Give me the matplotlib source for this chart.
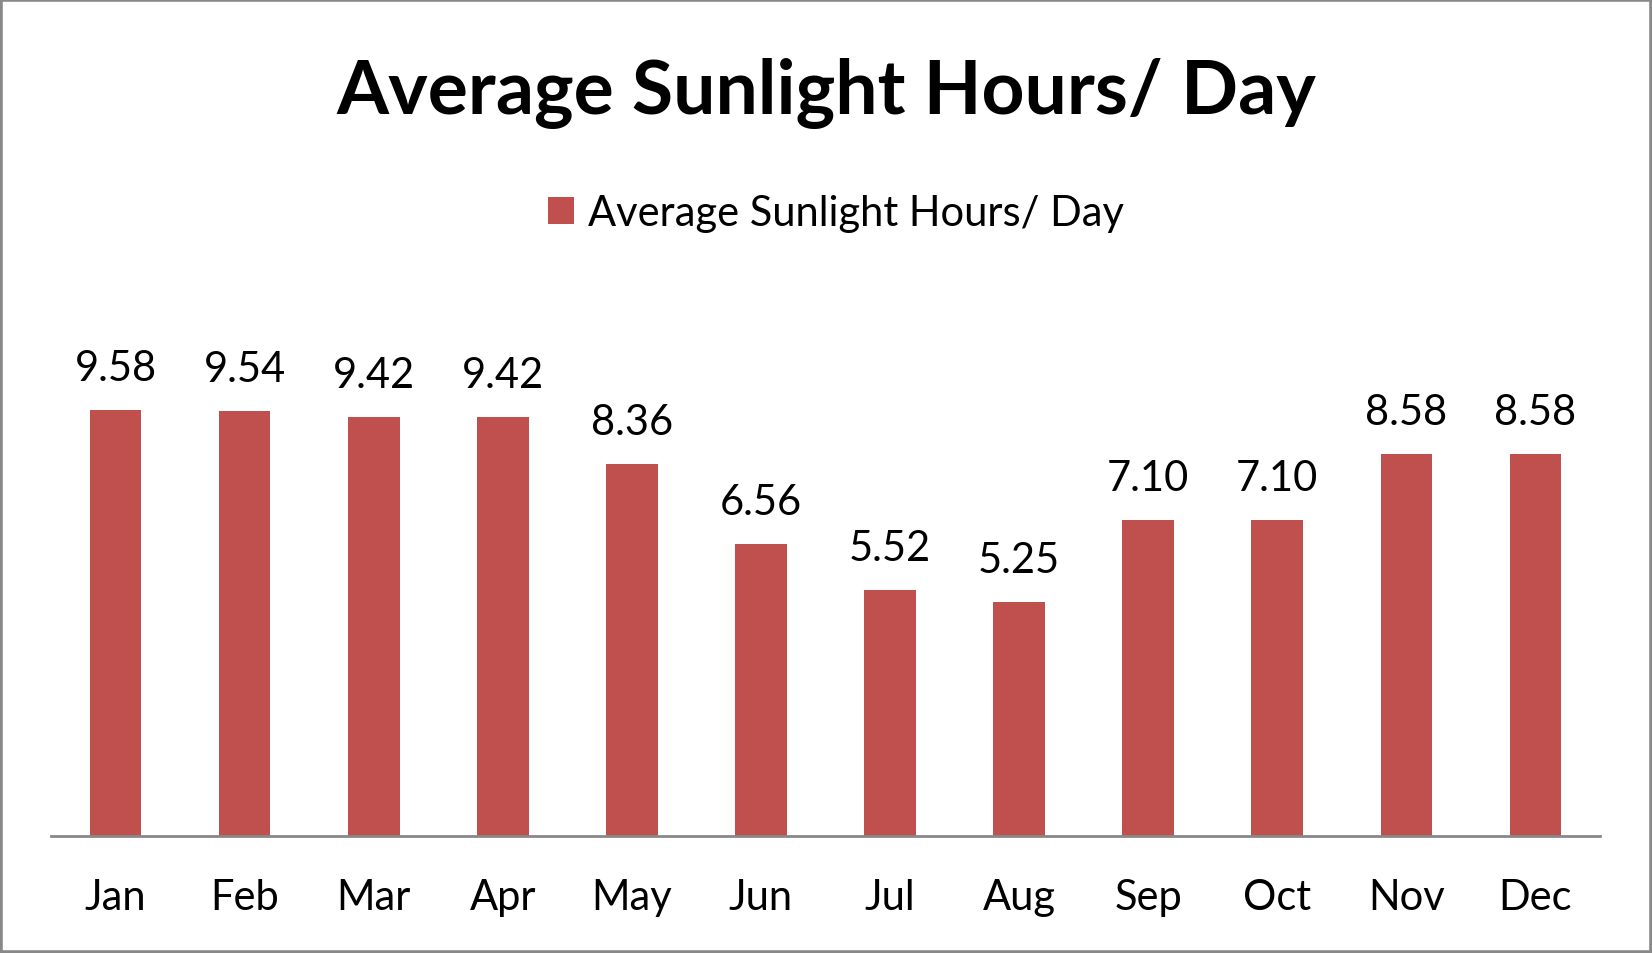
import matplotlib
matplotlib.use('Agg')
import matplotlib.pyplot as plt
from matplotlib.patches import Rectangle

months = ['Jan', 'Feb', 'Mar', 'Apr', 'May', 'Jun', 'Jul', 'Aug', 'Sep', 'Oct', 'Nov', 'Dec']
hours = [9.58, 9.54, 9.42, 9.42, 8.36, 6.56, 5.52, 5.25, 7.10, 7.10, 8.58, 8.58]
series_name = 'Average Sunlight Hours/ Day'

plt.rcParams['font.family'] = ['Lato', 'DejaVu Sans']

fig = plt.figure(figsize=(16.52, 9.54), dpi=100)
ax = fig.add_axes([0.0309, 0.1226, 0.9376, 0.5598])

x = range(len(months))
bars = ax.bar(x, hours, width=0.4, color='#C0504D', label=series_name, zorder=2)
ax.set_ylim(0, 12)
ax.set_xlim(-0.5, len(months) - 0.5)

# value labels above the bars
for xi, h in zip(x, hours):
    ax.text(xi, h + 0.52, '%.2f' % h, ha='center', va='bottom', fontsize=30)

ax.set_xticks(list(x))
ax.set_xticklabels(months, fontsize=30)
ax.tick_params(axis='x', length=0, pad=30)
ax.set_yticks([])
for s in ['top', 'right', 'left']:
    ax.spines[s].set_visible(False)
ax.spines['bottom'].set_color('#888888')
ax.spines['bottom'].set_linewidth(2)

fig.text(0.5, 0.902, series_name, ha='center', va='center', fontsize=54, fontweight='bold')
fig.legend(handles=[bars], labels=[series_name], loc='center', bbox_to_anchor=(0.506, 0.776),
           frameon=False, fontsize=30, handlelength=0.62, handleheight=0.62, handletextpad=0.35)

fig.add_artist(Rectangle((0, 0), 1, 1, transform=fig.transFigure, fill=False,
                         edgecolor='#888888', linewidth=4))

fig.savefig('out.png', dpi=100)
